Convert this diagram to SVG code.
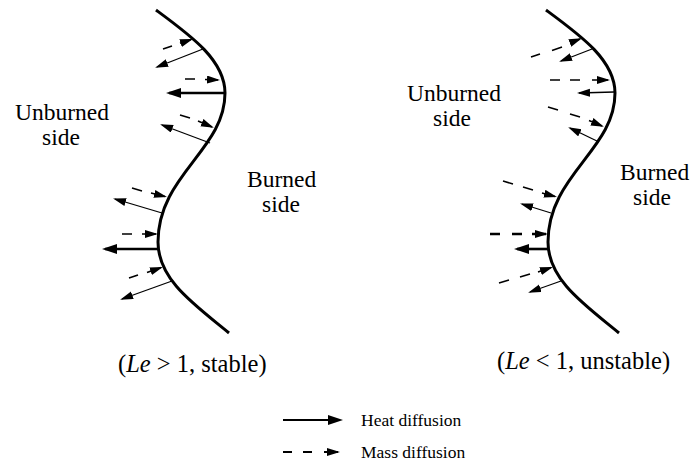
<svg xmlns="http://www.w3.org/2000/svg" width="691" height="464" viewBox="0 0 691 464">
<style>
  .curve { fill: none; stroke: #000; stroke-width: 3; }
  .thin { fill: none; stroke: #000; stroke-width: 1.3; marker-end: url(#ah); }
  .thick { fill: none; stroke: #000; stroke-width: 2.6; marker-end: url(#ahb); }
  .dash { fill: none; stroke: #000; stroke-width: 1.6; marker-end: url(#ah); }
  .dashb { fill: none; stroke: #000; stroke-width: 2.4; marker-end: url(#ah); }
  .lbl { font-family: "Liberation Serif", "Times New Roman", serif; font-size: 23.5px; fill: #000; }
  .cap { font-family: "Liberation Serif", "Times New Roman", serif; font-size: 24.5px; fill: #000; }
  .leg { font-family: "Liberation Serif", "Times New Roman", serif; font-size: 17.5px; fill: #000; }
</style>
<defs>
  <marker id="ah" markerUnits="userSpaceOnUse" markerWidth="14" markerHeight="10" refX="11" refY="4" orient="auto">
    <path d="M0,0 L13,4 L0,8 z" fill="#000"/>
  </marker>
  <marker id="ahb" markerUnits="userSpaceOnUse" markerWidth="16" markerHeight="12" refX="12" refY="5" orient="auto">
    <path d="M0,0 L15,5 L0,10 z" fill="#000"/>
  </marker>
  <path id="front" d="M156,10 C190,35 225,60 225,93 C225,150 158,175 158,242 C158,280 195,305 229,333"/>
</defs>

<g id="stable">
  <g id="front-left"><use href="#front" class="curve"/></g>
  <g id="arrows-left">
    <path class="thin" d="M203,49 L157,67"/>
    <path class="thin" d="M210,143 L162,125"/>
    <path class="thin" d="M162,213 L115,199"/>
    <path class="thin" d="M172,281 L122,299"/>
    <path class="thick" d="M225,93 L169,93"/>
    <path class="thick" d="M158,249 L105,249"/>
    <path class="dash" d="M163,49 L172,46 M180,43.3 L191,39.6"/>
    <path class="dash" d="M185,79 L195,79 M205,79.5 L218,80"/>
    <path class="dash" d="M180,115 L190,118 M198,121 L212,127"/>
    <path class="dash" d="M132,188 L142,191 M151,193 L165,196.5"/>
    <path class="dash" d="M122,234 L132,234 M142,234 L156,234"/>
    <path class="dash" d="M129,278 L138,275 M147,272.5 L161,267.6"/>
  </g>
  <text class="lbl" x="15" y="120">Unburned</text>
  <text class="lbl" x="42" y="145">side</text>
  <text class="lbl" x="247" y="187">Burned</text>
  <text class="lbl" x="262" y="212">side</text>
  <text class="cap" x="118" y="372">(<tspan font-style="italic">Le</tspan> &gt; 1, stable)</text>
</g>

<g id="unstable">
  <g id="front-right" transform="translate(390,0)"><use href="#front" class="curve"/></g>
  <g id="arrows-right">
    <path class="thin" d="M592,49 L561,61"/>
    <path class="thin" d="M614,92 L579,93"/>
    <path class="thin" d="M599,142 L570,128"/>
    <path class="thin" d="M551,213 L522,204"/>
    <path class="thin" d="M561,281 L530,292"/>
    <path class="thick" d="M548,249 L517,249"/>
    <path class="dash" d="M531,57 L540,54 M552,50.5 L562,47 M570,43 L580,39"/>
    <path class="dash" d="M550,80 L560,80 M570,80 L580,80 M592,80 L608,80"/>
    <path class="dash" d="M548,107 L558,110 M570,114 L580,117 M589,120.5 L602,126"/>
    <path class="dash" d="M503,181 L513,184 M523,187 L533,190 M542,193 L555,196.5"/>
    <path class="dashb" d="M490,234 L500,234 M512,234 L522,234 M532,234 L546,234"/>
    <path class="dash" d="M499,283 L509,280 M520,277 L530,274 M538,272 L551,267.6"/>
  </g>
  <text class="lbl" x="407" y="101">Unburned</text>
  <text class="lbl" x="433" y="126">side</text>
  <text class="lbl" x="620" y="180">Burned</text>
  <text class="lbl" x="633" y="205">side</text>
  <text class="cap" x="497" y="369">(<tspan font-style="italic">Le</tspan> &lt; 1, unstable)</text>
</g>

<g id="legend">
  <path class="thick" style="stroke-width:2" d="M283,420 L340,420"/>
  <path class="dashb" style="stroke-width:2" d="M283,452 L292,452 M303,452 L312,452 M324,452 L338,452"/>
  <text class="leg" x="361" y="426">Heat diffusion</text>
  <text class="leg" x="361" y="458">Mass diffusion</text>
</g>
</svg>
